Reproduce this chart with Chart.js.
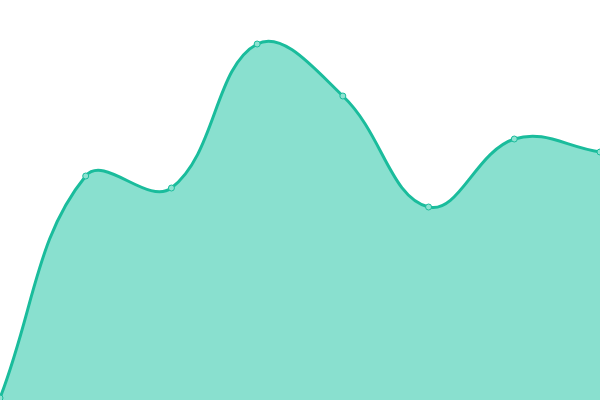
<!DOCTYPE html>
<html>
<head>
<meta charset="utf-8">
<script src="https://cdn.jsdelivr.net/npm/chart.js@4"></script>
<style>
    html, body { margin: 0; padding: 0; background: #ffffff; }
    #wrap { width: 600px; height: 400px; }
</style>
</head>
<body>
<div id="wrap"><canvas id="areaChart"></canvas></div>
<script>
// Values (no axes are shown)
const labels = ['1', '2', '3', '4', '5', '6', '7', '8'];
const values = [2, 224, 212, 356, 304, 193, 261, 248];
const yMin = 0;
const yMax = 400;

const lineColor = '#1abc9c';
const fillColor = '#89e0cf';

new Chart(document.getElementById('areaChart'), {
    type: 'line',
    data: {
        labels: labels,
        datasets: [{
            data: values,
            borderColor: lineColor,
            backgroundColor: fillColor,
            borderWidth: 3,
            fill: 'origin',
            tension: 0.4,
            pointRadius: 3,
            pointBackgroundColor: '#8ee2d1',
            pointBorderColor: lineColor,
            pointBorderWidth: 1
        }]
    },
    options: {
        responsive: true,
        maintainAspectRatio: false,
        animation: false,
        layout: { padding: 0, autoPadding: false },
        plugins: {
            legend: { display: false },
            tooltip: { enabled: false }
        },
        scales: {
            x: { display: false, offset: false },
            y: { display: false, min: yMin, max: yMax }
        }
    }
});
</script>
</body>
</html>
